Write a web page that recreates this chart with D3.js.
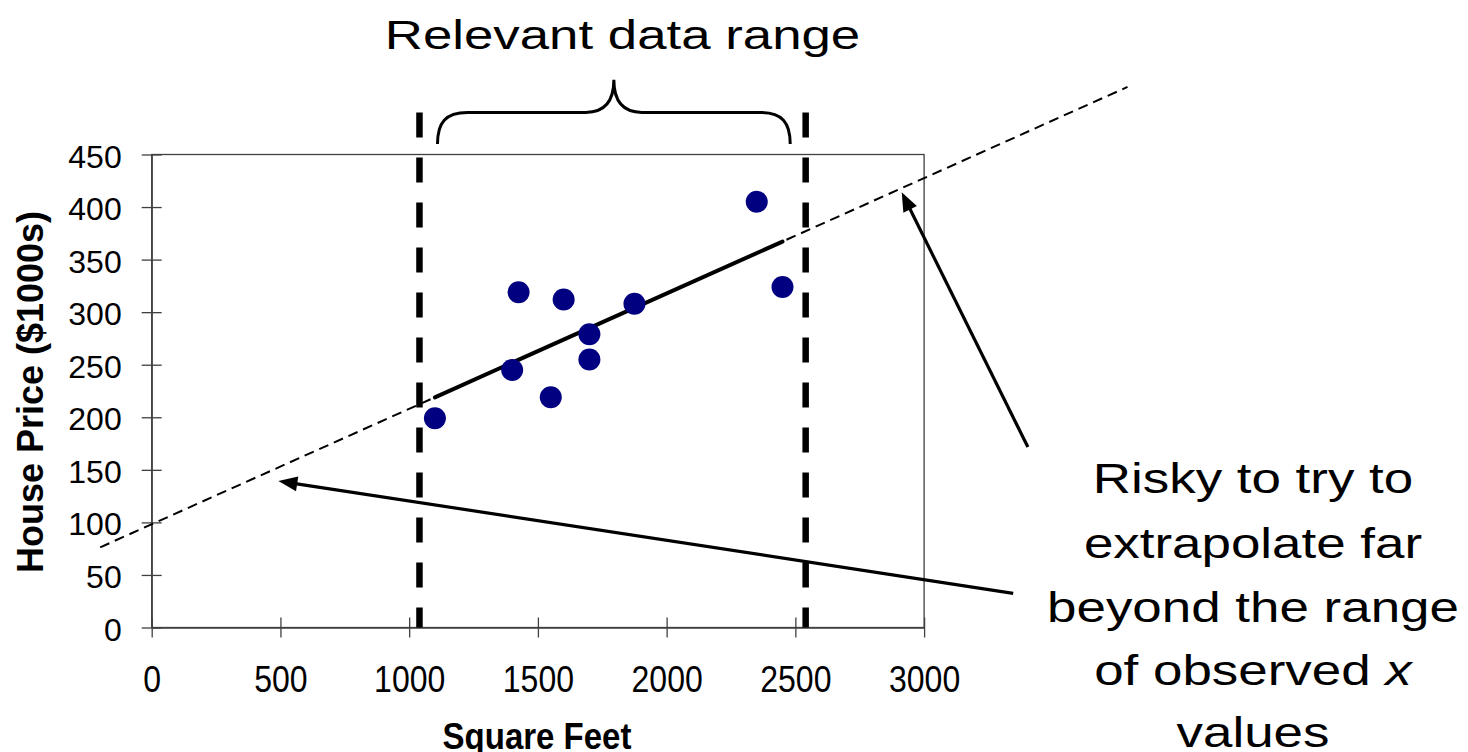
<!DOCTYPE html>
<html>
<head>
<meta charset="utf-8">
<script src="https://cdn.jsdelivr.net/npm/d3@7"></script>
<style>
  html, body { margin: 0; padding: 0; background: #fff; }
  svg { display: block; }
  text { font-family: 'Liberation Sans', Arial, sans-serif; }
</style>
</head>
<body>
<svg id="chart" width="1468" height="752"></svg>
<script>
// ---- Data ----
const squareFeet = [1400, 1600, 1700, 1875, 1100, 1550, 2350, 2450, 1425, 1700];
const housePrice = [245, 312, 279, 308, 199, 219, 405, 324, 319, 255];
const xTicks = [0, 500, 1000, 1500, 2000, 2500, 3000];
const yTicks = [0, 50, 100, 150, 200, 250, 300, 350, 400, 450];
const relevantRange = [1040, 2540];        // vertical dashed boundaries (sq ft)
const extrapolationRange = [-200, 3790];   // extent of dashed fitted line (sq ft)
const titleText = "Relevant data range";
const noteLines = ["Risky to try to", "extrapolate far", "beyond the range", "of observed ", "values"];
const xTitle = "Square Feet";
const yTitle = "House Price ($1000s)";

// ---- Setup ----
const svg = d3.select("#chart");
const x = d3.scaleLinear().domain([0, 3000]).range([151.7, 924.1]);
const y = d3.scaleLinear().domain([0, 450]).range([627.5, 154.5]);
const axisColor = "#404040";

// least squares fit from the data
const mx = d3.mean(squareFeet), my = d3.mean(housePrice);
const b1 = d3.sum(squareFeet, (d, i) => (d - mx) * (housePrice[i] - my)) /
           d3.sum(squareFeet, d => (d - mx) * (d - mx));
const b0 = my - b1 * mx;
const fit = v => b0 + b1 * v;

// Plot frame
svg.append("rect")
  .attr("x", x(0)).attr("y", y(450))
  .attr("width", x(3000) - x(0)).attr("height", y(0) - y(450))
  .attr("fill", "none").attr("stroke", axisColor).attr("stroke-width", 1.3);

// X axis
const gx = svg.append("g")
  .attr("transform", `translate(0,${y(0)})`)
  .call(d3.axisBottom(x).tickValues(xTicks).tickSize(10).tickSizeOuter(0).tickPadding(0).tickFormat(d3.format("d")));
gx.attr("font-size", null).attr("font-family", null);
gx.select(".domain").attr("stroke", axisColor).attr("stroke-width", 1.3);
gx.selectAll(".tick line").attr("y1", -10).attr("y2", 10).attr("stroke", axisColor).attr("stroke-width", 1.3);
gx.selectAll(".tick text")
  .attr("y", 0).attr("dy", null)
  .attr("transform", "translate(0,64) scale(1,1.17)")
  .attr("font-size", 32).attr("fill", "#000");

// Y axis
const gy = svg.append("g")
  .attr("transform", `translate(${x(0)},0)`)
  .call(d3.axisLeft(y).tickValues(yTicks).tickSize(10).tickSizeOuter(0).tickPadding(0).tickFormat(d3.format("d")));
gy.attr("font-size", null).attr("font-family", null);
gy.select(".domain").attr("stroke", axisColor).attr("stroke-width", 1.3);
gy.selectAll(".tick line").attr("x1", -10).attr("x2", 10).attr("stroke", axisColor).attr("stroke-width", 1.3);
gy.selectAll(".tick text")
  .attr("x", -30).attr("y", 12.5).attr("dy", null)
  .attr("font-size", 32).attr("fill", "#000");

// Axis titles
svg.append("text")
  .attr("transform", `translate(43,392) rotate(-90)`)
  .attr("text-anchor", "middle").attr("font-weight", "bold").attr("font-size", 36)
  .text(yTitle);
svg.append("text")
  .attr("transform", `translate(537,749) scale(1,1.1)`)
  .attr("text-anchor", "middle").attr("font-weight", "bold").attr("font-size", 33)
  .text(xTitle);

// Relevant range vertical dashed lines
svg.selectAll("line.range")
  .data(relevantRange).enter().append("line")
  .attr("class", "range")
  .attr("x1", d => x(d)).attr("x2", d => x(d))
  .attr("y1", y(490)).attr("y2", y(0))
  .attr("stroke", "#000").attr("stroke-width", 6.5)
  .attr("stroke-dasharray", "25,20");

// Extrapolated fitted line (dashed)
svg.append("line")
  .attr("x1", x(extrapolationRange[0])).attr("y1", y(fit(extrapolationRange[0])))
  .attr("x2", x(extrapolationRange[1])).attr("y2", y(fit(extrapolationRange[1])))
  .attr("stroke", "#000").attr("stroke-width", 2).attr("stroke-dasharray", "10,6");

// Fitted line over observed range
const xmin = d3.min(squareFeet), xmax = d3.max(squareFeet);
svg.append("line")
  .attr("x1", x(xmin)).attr("y1", y(fit(xmin)))
  .attr("x2", x(xmax)).attr("y2", y(fit(xmax)))
  .attr("stroke", "#000").attr("stroke-width", 4).attr("stroke-linecap", "round");

// Points
svg.selectAll("circle.pt")
  .data(squareFeet.map((d, i) => [d, housePrice[i]]))
  .enter().append("circle")
  .attr("class", "pt")
  .attr("cx", d => x(d[0])).attr("cy", d => y(d[1]))
  .attr("r", 11).attr("fill", "#000080");

// Brace
{
  const L = x(1110), R = x(2480), M = (L + R) / 2;
  const yb = y(460), yh = y(490), yt = y(521);
  const p = `M${L},${yb} C${L},${yh + 10} ${L + 8},${yh} ${L + 30},${yh} L${M - 28},${yh} ` +
            `C${M - 10},${yh} ${M},${yh - 10} ${M},${yt} C${M},${yh - 10} ${M + 10},${yh} ${M + 28},${yh} ` +
            `L${R - 30},${yh} C${R - 8},${yh} ${R},${yh + 10} ${R},${yb}`;
  svg.append("path").attr("d", p).attr("fill", "none").attr("stroke", "#000").attr("stroke-width", 3);
}

// Title
svg.append("text")
  .attr("transform", "translate(622.5,48.5) scale(1.32,1)")
  .attr("text-anchor", "middle").attr("font-size", 40).attr("fill", "#000")
  .text(titleText);

// Arrows
function arrow(from, to) {
  const x0 = x(from[0]), y0 = y(from[1]), x1 = x(to[0]), y1 = y(to[1]);
  const dx = x1 - x0, dy = y1 - y0, len = Math.hypot(dx, dy);
  const ux = dx / len, uy = dy / len;
  const hl = 19, hw = 7.5;
  const bx = x1 - ux * hl, by = y1 - uy * hl;
  svg.append("line")
    .attr("x1", x0).attr("y1", y0).attr("x2", bx + ux * 2).attr("y2", by + uy * 2)
    .attr("stroke", "#000").attr("stroke-width", 3.2);
  svg.append("path")
    .attr("d", `M${x1},${y1} L${bx - uy * hw},${by + ux * hw} L${bx + uy * hw},${by - ux * hw} Z`)
    .attr("fill", "#000");
}
arrow([3403, 171.7], [2913, 414]);
arrow([3346, 32.5], [492, 139.4]);

// Note text
const baselines = [493, 558, 622, 685, 747];
const note = svg.append("g");
noteLines.forEach((line, i) => {
  const t = note.append("text")
    .attr("transform", `translate(1253,${baselines[i]}) scale(1.26,1)`)
    .attr("text-anchor", "middle").attr("font-size", 42).attr("fill", "#000");
  t.append("tspan").text(line);
  if (i === 3) t.append("tspan").attr("font-style", "italic").text("x");
});
</script>
</body>
</html>
